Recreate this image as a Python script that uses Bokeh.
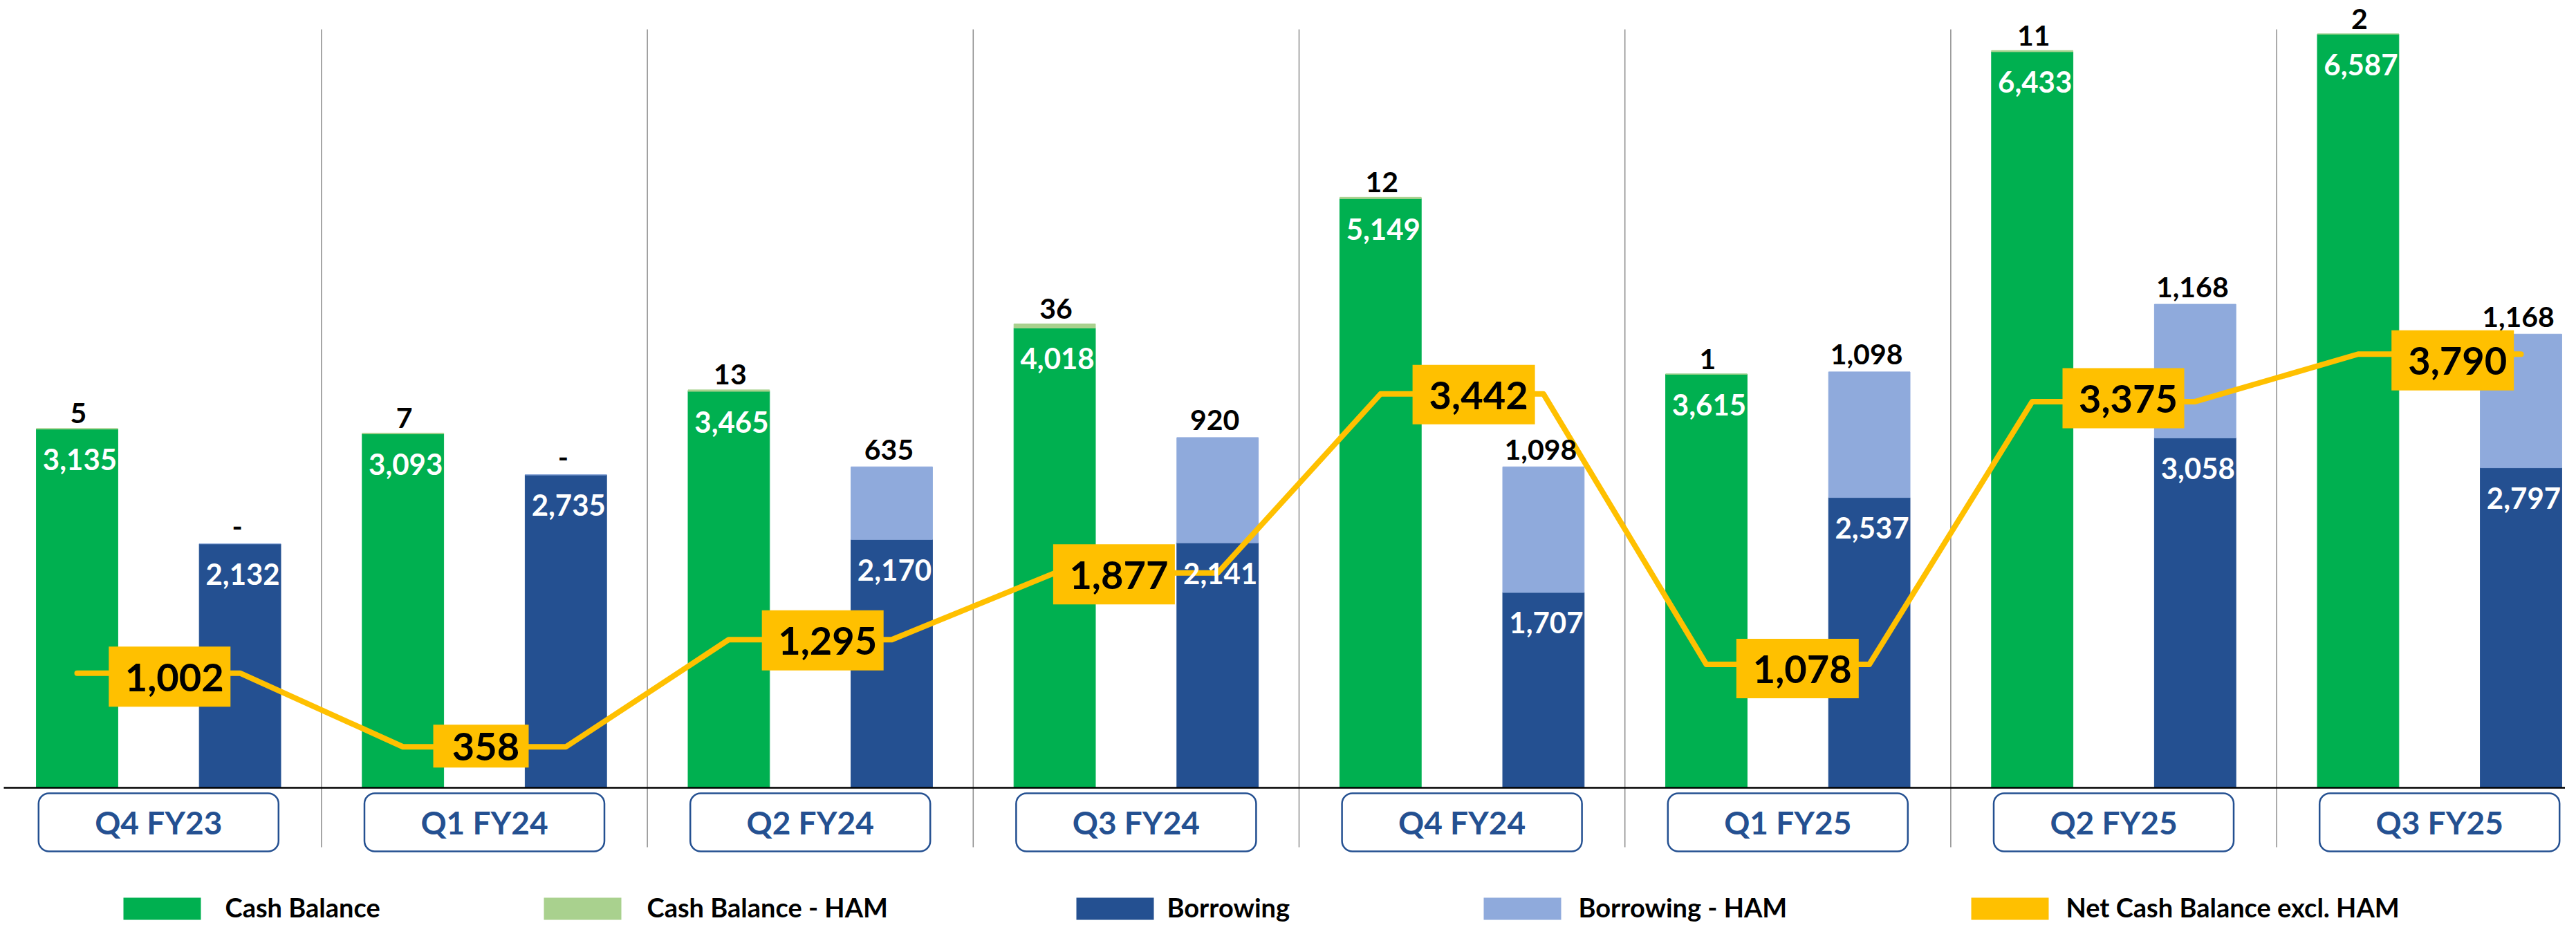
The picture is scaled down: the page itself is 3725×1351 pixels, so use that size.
from bokeh.plotting import figure
from bokeh.models import ColumnDataSource, Range1d
from bokeh.transform import dodge
from bokeh.core.properties import value
from bokeh.embed import file_html
from bokeh.resources import INLINE

# ---------------- data ----------------
quarters = ["Q4 FY23", "Q1 FY24", "Q2 FY24", "Q3 FY24", "Q4 FY24", "Q1 FY25", "Q2 FY25", "Q3 FY25"]
cash_balance = [3135, 3093, 3465, 4018, 5149, 3615, 6433, 6587]
cash_balance_ham = [5, 7, 13, 36, 12, 1, 11, 2]
borrowing = [2132, 2735, 2170, 2141, 1707, 2537, 3058, 2797]
borrowing_ham = [0, 0, 635, 920, 1098, 1098, 1168, 1168]
net_cash_excl_ham = [1002, 358, 1295, 1877, 3442, 1078, 3375, 3790]
legend_labels = ["Cash Balance", "Cash Balance - HAM", "Borrowing", "Borrowing - HAM",
                 "Net Cash Balance excl. HAM"]

# ---------------- style ----------------
GREEN = "#00B050"
LGREEN = "#A9D18E"
BLUE = "#245091"
LBLUE = "#8FAADC"
YELLOW = "#FFC000"
FONT = value("Lato")

W, H = 3709, 1335
MARGIN = 8
X0, XW = 236.8, 471.2      # page px of first category centre, px per category
Y0, K = 1147.0, 0.1655     # page px of zero line, px per unit


def xd(px):
    return (px - X0) / XW


def yd(py):
    return (Y0 - py) / K


# net-label box geometry (screen px)
box_w = [176, 138, 176, 176, 177, 177, 176, 177]
box_h = [87, 62, 87, 87, 86, 86, 87, 87]
box_dx = [16, -5, 18, -32, 17, 14, 14, 19]
box_dy = [5, -1, 1, 2, 1, 6, -5, 9]

# legend geometry (page px)
leg_marker_x = [186, 794, 1564, 2153, 2858]
leg_text_x = [333, 943, 1695, 2290, 2995]
leg_colors = [GREEN, LGREEN, BLUE, LBLUE, YELLOW]

n = len(quarters)
idx = list(range(n))


def fmt(v):
    return "-" if v == 0 else f"{v:,}"


src = ColumnDataSource(dict(
    idx=idx,
    quarter=quarters,
    cash=cash_balance,
    cash_ham=cash_balance_ham,
    borrow=borrowing,
    borrow_ham=borrowing_ham,
    cash_top=[a + b for a, b in zip(cash_balance, cash_balance_ham)],
    borrow_top=[a + b for a, b in zip(borrowing, borrowing_ham)],
    cash_lbl=[fmt(v) for v in cash_balance],
    cash_ham_lbl=[fmt(v) for v in cash_balance_ham],
    borrow_lbl=[fmt(v) for v in borrowing],
    borrow_ham_lbl=[fmt(v) for v in borrowing_ham],
    net=net_cash_excl_ham,
    net_lbl=[fmt(v) for v in net_cash_excl_ham],
    box_x=[i + d / XW for i, d in zip(idx, box_dx)],
    box_y=[v - d / K for v, d in zip(net_cash_excl_ham, box_dy)],
    box_w=box_w,
    box_h=box_h,
))

p = figure(width=W, height=H,
           x_range=Range1d(xd(MARGIN), xd(MARGIN + W)),
           y_range=Range1d(yd(MARGIN + H), yd(MARGIN)),
           output_backend="svg", toolbar_location=None,
           x_axis_location=None, y_axis_location=None,
           min_border=0, outline_line_color=None)
p.grid.visible = False
p.background_fill_color = "white"
p.border_fill_color = "white"

# category separators
sep_x = [i + 0.5 for i in idx[:-1]]
p.segment(x0=sep_x, y0=[yd(50)] * len(sep_x), x1=sep_x, y1=[yd(1233)] * len(sep_x),
          line_color="#8C8C8C", line_width=1.5)

# bars
p.vbar_stack(["cash", "cash_ham"], x=dodge("idx", -0.25, range=p.x_range), width=0.25,
             color=[GREEN, LGREEN], source=src)
p.vbar_stack(["borrow", "borrow_ham"], x=dodge("idx", 0.25, range=p.x_range), width=0.25,
             color=[BLUE, LBLUE], source=src)

# zero line
p.segment(x0=[xd(13)], y0=[0], x1=[xd(MARGIN + W)], y1=[0], line_color="black", line_width=2.5)

# net cash line
lx, ly = [], []
for i, v in zip(idx, net_cash_excl_ham):
    lx += [i - 0.25, i + 0.25]
    ly += [v, v]
p.line(lx, ly, line_color=YELLOW, line_width=8, line_cap="round", line_join="round")

# value labels inside bars
p.text(x=dodge("idx", -0.25, range=p.x_range), y="cash", text="cash_lbl", source=src,
       text_color="white", text_font=FONT, text_font_style="bold", text_font_size="42px",
       text_align="center", text_baseline="middle", x_offset=4, y_offset=44)
p.text(x=dodge("idx", 0.25, range=p.x_range), y="borrow", text="borrow_lbl", source=src,
       text_color="white", text_font=FONT, text_font_style="bold", text_font_size="42px",
       text_align="center", text_baseline="middle", x_offset=4, y_offset=44)

# HAM labels above bars
p.text(x=dodge("idx", -0.25, range=p.x_range), y="cash_top", text="cash_ham_lbl", source=src,
       text_color="black", text_font=FONT, text_font_style="bold", text_font_size="41px",
       text_align="center", text_baseline="middle", x_offset=2, y_offset=-22)
p.text(x=dodge("idx", 0.25, range=p.x_range), y="borrow_top", text="borrow_ham_lbl", source=src,
       text_color="black", text_font=FONT, text_font_style="bold", text_font_size="41px",
       text_align="center", text_baseline="middle", x_offset=-4, y_offset=-25)

# net labels in yellow boxes
p.rect(x="box_x", y="box_y", width="box_w", height="box_h", width_units="screen",
       height_units="screen", fill_color=YELLOW, line_color=None, source=src)
p.text(x="box_x", y="box_y", text="net_lbl", source=src, text_color="black", text_font=FONT,
       text_font_style="bold", text_font_size="56px", text_align="center",
       text_baseline="middle", x_offset=7, y_offset=1)

# category label boxes
cat_y = [yd(1197)] * n
p.rect(x=idx, y=cat_y, width=347, height=84, width_units="screen", height_units="screen",
       fill_color="white", line_color=BLUE, line_width=2.5, border_radius=15)
p.text(x=idx, y=cat_y, text=quarters, text_color=BLUE, text_font=FONT,
       text_font_style="bold", text_font_size="46px", text_align="center",
       text_baseline="middle")

# legend
p.rect(x=[xd(m + 56) for m in leg_marker_x], y=[yd(1322)] * 5, width=112, height=32,
       width_units="screen", height_units="screen", fill_color=leg_colors, line_color=None)
p.text(x=[xd(t) for t in leg_text_x], y=[yd(1319)] * 5, text=legend_labels,
       text_color="black", text_font=FONT, text_font_style="bold", text_font_size="38px",
       text_align="left", text_baseline="middle")

open("out.html", "w").write(file_html(p, INLINE))
